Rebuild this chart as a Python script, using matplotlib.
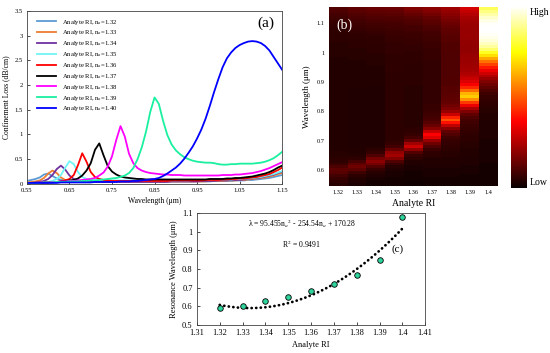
import numpy as np
import matplotlib
matplotlib.use('Agg')
import matplotlib.pyplot as plt
from matplotlib.colors import PowerNorm

plt.rcParams['font.family'] = ['Liberation Serif', 'DejaVu Serif']
plt.rcParams['mathtext.fontset'] = 'stix'

# wavelength grid of panel (a) / (b), um
WAVELENGTH = np.round(np.arange(0.55, 1.1501, 0.01), 2)

RI = [1.32, 1.33, 1.34, 1.35, 1.36, 1.37, 1.38, 1.39, 1.40]
RI_LABELS = ['1.32', '1.33', '1.34', '1.35', '1.36', '1.37', '1.38', '1.39', '1.4']
LINE_COLORS = ['#5b9bd5', '#ed7d31', '#7030a0', '#6ff5f5', '#ff0000',
               '#000000', '#ff00ff', '#19f0a0', '#0000ff']

# confinement loss (dB/cm), one list per analyte RI
LOSS_132 = [0.06, 0.08, 0.10, 0.13, 0.19, 0.21, 0.16, 0.11, 0.08, 0.07,
            0.06, 0.06, 0.05, 0.05, 0.05, 0.05, 0.05, 0.05, 0.05, 0.05,
            0.05, 0.05, 0.05, 0.05, 0.05, 0.05, 0.05, 0.05, 0.05, 0.05,
            0.05, 0.05, 0.05, 0.05, 0.05, 0.05, 0.05, 0.05, 0.05, 0.05,
            0.05, 0.05, 0.05, 0.05, 0.06, 0.06, 0.06, 0.06, 0.06, 0.07,
            0.07, 0.07, 0.08, 0.08, 0.09, 0.10, 0.11, 0.12, 0.14, 0.16, 0.18]
LOSS_133 = [0.03, 0.04, 0.05, 0.07, 0.12, 0.21, 0.27, 0.22, 0.13, 0.08,
            0.06, 0.05, 0.05, 0.04, 0.04, 0.04, 0.04, 0.04, 0.04, 0.04,
            0.04, 0.04, 0.04, 0.04, 0.04, 0.04, 0.04, 0.04, 0.04, 0.04,
            0.04, 0.04, 0.04, 0.05, 0.05, 0.05, 0.05, 0.05, 0.05, 0.05,
            0.05, 0.05, 0.05, 0.06, 0.06, 0.06, 0.06, 0.07, 0.07, 0.07,
            0.08, 0.08, 0.09, 0.10, 0.11, 0.12, 0.13, 0.15, 0.17, 0.20, 0.22]
LOSS_134 = [0.02, 0.02, 0.03, 0.04, 0.06, 0.10, 0.18, 0.30, 0.37, 0.29,
            0.17, 0.10, 0.07, 0.05, 0.04, 0.04, 0.04, 0.04, 0.04, 0.04,
            0.04, 0.04, 0.04, 0.04, 0.04, 0.04, 0.04, 0.04, 0.04, 0.04,
            0.04, 0.04, 0.04, 0.04, 0.05, 0.05, 0.05, 0.05, 0.05, 0.05,
            0.05, 0.06, 0.06, 0.06, 0.06, 0.07, 0.07, 0.07, 0.08, 0.08,
            0.08, 0.09, 0.10, 0.11, 0.12, 0.13, 0.15, 0.17, 0.19, 0.22, 0.25]
LOSS_135 = [0.02, 0.02, 0.02, 0.03, 0.03, 0.04, 0.06, 0.10, 0.18, 0.33,
            0.46, 0.40, 0.24, 0.14, 0.10, 0.08, 0.07, 0.07, 0.07, 0.07,
            0.07, 0.07, 0.07, 0.07, 0.07, 0.07, 0.07, 0.07, 0.07, 0.07,
            0.07, 0.07, 0.07, 0.07, 0.07, 0.07, 0.07, 0.07, 0.07, 0.08,
            0.08, 0.08, 0.08, 0.08, 0.08, 0.09, 0.09, 0.09, 0.09, 0.10,
            0.10, 0.11, 0.11, 0.12, 0.13, 0.14, 0.16, 0.18, 0.20, 0.23, 0.26]
LOSS_136 = [0.01, 0.01, 0.02, 0.02, 0.02, 0.03, 0.03, 0.04, 0.05, 0.07,
            0.10, 0.18, 0.38, 0.62, 0.45, 0.24, 0.14, 0.10, 0.08, 0.07,
            0.06, 0.06, 0.06, 0.06, 0.06, 0.06, 0.06, 0.06, 0.06, 0.06,
            0.06, 0.06, 0.06, 0.06, 0.07, 0.07, 0.07, 0.07, 0.07, 0.07,
            0.07, 0.07, 0.08, 0.08, 0.08, 0.08, 0.09, 0.09, 0.10, 0.10,
            0.11, 0.11, 0.12, 0.13, 0.14, 0.16, 0.18, 0.20, 0.24, 0.28, 0.33]
LOSS_137 = [0.02, 0.02, 0.02, 0.03, 0.03, 0.03, 0.04, 0.04, 0.05, 0.05,
            0.07, 0.08, 0.11, 0.17, 0.27, 0.42, 0.69, 0.82, 0.58, 0.36,
            0.25, 0.19, 0.15, 0.13, 0.12, 0.11, 0.10, 0.10, 0.09, 0.09,
            0.09, 0.09, 0.09, 0.09, 0.09, 0.09, 0.09, 0.09, 0.09, 0.09,
            0.09, 0.09, 0.09, 0.10, 0.10, 0.10, 0.10, 0.11, 0.11, 0.12,
            0.12, 0.13, 0.14, 0.15, 0.17, 0.19, 0.21, 0.24, 0.28, 0.33, 0.37]
LOSS_138 = [0.02, 0.02, 0.02, 0.03, 0.03, 0.03, 0.04, 0.04, 0.05, 0.05,
            0.06, 0.06, 0.07, 0.08, 0.09, 0.10, 0.12, 0.17, 0.23, 0.35,
            0.56, 0.89, 1.17, 0.96, 0.61, 0.42, 0.32, 0.27, 0.24, 0.22,
            0.21, 0.20, 0.19, 0.19, 0.18, 0.18, 0.18, 0.17, 0.17, 0.17,
            0.17, 0.17, 0.17, 0.17, 0.17, 0.17, 0.18, 0.18, 0.18, 0.19,
            0.19, 0.20, 0.21, 0.22, 0.24, 0.26, 0.29, 0.32, 0.36, 0.40, 0.44]
LOSS_139 = [0.02, 0.02, 0.02, 0.02, 0.03, 0.03, 0.03, 0.04, 0.04, 0.04,
            0.05, 0.05, 0.05, 0.06, 0.06, 0.07, 0.07, 0.08, 0.09, 0.10,
            0.11, 0.12, 0.14, 0.17, 0.22, 0.32, 0.50, 0.74, 1.06, 1.46,
            1.75, 1.62, 1.28, 0.99, 0.80, 0.68, 0.60, 0.54, 0.50, 0.47,
            0.45, 0.44, 0.43, 0.43, 0.42, 0.40, 0.39, 0.39, 0.40, 0.40,
            0.41, 0.41, 0.41, 0.41, 0.42, 0.43, 0.45, 0.48, 0.52, 0.58, 0.65]
LOSS_140 = [0.02, 0.02, 0.02, 0.02, 0.02, 0.02, 0.02, 0.02, 0.03, 0.03,
            0.03, 0.03, 0.03, 0.03, 0.03, 0.03, 0.04, 0.04, 0.04, 0.04,
            0.04, 0.04, 0.05, 0.05, 0.05, 0.06, 0.06, 0.07, 0.08, 0.09,
            0.10, 0.12, 0.16, 0.21, 0.27, 0.33, 0.41, 0.51, 0.63, 0.76,
            0.92, 1.10, 1.32, 1.58, 1.86, 2.12, 2.36, 2.54, 2.66, 2.75,
            2.81, 2.85, 2.88, 2.89, 2.88, 2.85, 2.79, 2.70, 2.57, 2.44, 2.31]

# panel (c): resonance wavelength vs analyte RI
RES_WAVELENGTH = [0.59, 0.60, 0.63, 0.65, 0.68, 0.72, 0.77, 0.85, 1.08]
FIT_COEF = [95.455, -254.54, 170.28]

losses = [LOSS_132, LOSS_133, LOSS_134, LOSS_135, LOSS_136,
          LOSS_137, LOSS_138, LOSS_139, LOSS_140]

fig = plt.figure(figsize=(5.5, 3.53), dpi=100)

# ---- (a) confinement loss spectra
ax_a = fig.add_axes([0.049, 0.479, 0.464, 0.490])
for n, loss, c in zip(RI, losses, LINE_COLORS):
    ax_a.plot(WAVELENGTH, loss, color=c, lw=1.3,
              label=r'Analyte RI, n$_a$=%.2f' % n)
ax_a.set_xlim(0.55, 1.15)
ax_a.set_ylim(0, 3.5)
ax_a.set_xticks([0.55, 0.65, 0.75, 0.85, 0.95, 1.05, 1.15])
ax_a.set_xticklabels(['0.55', '0.65', '0.75', '0.85', '0.95', '1.05', '1.15'])
ax_a.set_yticks([0, 0.5, 1, 1.5, 2, 2.5, 3, 3.5])
ax_a.set_yticklabels(['0', '0.5', '1', '1.5', '2', '2.5', '3', '3.5'])
ax_a.tick_params(labelsize=4.8, direction='in', length=2, width=0.5, pad=3)
ax_a.set_xlabel('Wavelength (μm)', fontsize=5.5, labelpad=3)
ax_a.set_ylabel('Confinement Loss (dB/cm)', fontsize=5.5, labelpad=3)
for s in ax_a.spines.values():
    s.set_linewidth(0.6)
    s.set_color('#444444')
ax_a.legend(loc='upper left', fontsize=4.8, frameon=False, handlelength=2.8,
            handletextpad=0.9, labelspacing=0.28, borderaxespad=0.2,
            bbox_to_anchor=(0.025, 0.985))
ax_a.text(0.935, 0.93, '(a)', transform=ax_a.transAxes, fontsize=11,
          ha='center', va='center')

# ---- (b) heat map
ax_b = fig.add_axes([0.598, 0.473, 0.307, 0.507])
Z = np.array(losses).T
x_edges = np.append(np.array(RI) - 0.005, RI[-1] + 0.005)
y_edges = np.append(WAVELENGTH - 0.005, WAVELENGTH[-1] + 0.005)
ax_b.pcolormesh(x_edges, y_edges, Z, cmap='hot',
                norm=PowerNorm(gamma=0.8, vmin=0, vmax=Z.max()),
                shading='flat')
ax_b.set_xlim(x_edges[0], x_edges[-1])
ax_b.set_ylim(0.545, 1.155)
ax_b.set_xticks(RI)
ax_b.set_xticklabels(RI_LABELS)
ax_b.set_yticks([0.6, 0.7, 0.8, 0.9, 1.0, 1.1])
ax_b.set_yticklabels(['0.6', '0.7', '0.8', '0.9', '1', '1.1'])
ax_b.tick_params(labelsize=4.5, length=0, pad=3)
for s in ax_b.spines.values():
    s.set_visible(False)
ax_b.set_xlabel('Analyte RI', fontsize=7, labelpad=3)
ax_b.set_ylabel('Wavelength (μm)', fontsize=6.5, labelpad=4)
ax_b.text(0.09, 0.9, '(b)', transform=ax_b.transAxes, fontsize=10,
          color='white', ha='center', va='center')

# colorbar
ax_cb = fig.add_axes([0.929, 0.467, 0.029, 0.513])
grad = np.linspace(0, 1, 256).reshape(-1, 1)
ax_cb.imshow(grad, cmap='hot', aspect='auto', origin='lower')
ax_cb.set_axis_off()
ax_cb.text(1.15, 0.97, 'High', transform=ax_cb.transAxes, fontsize=7,
           ha='left', va='center')
ax_cb.text(1.15, 0.03, 'Low', transform=ax_cb.transAxes, fontsize=7,
           ha='left', va='center')

# ---- (c) resonance wavelength
ax_c = fig.add_axes([0.358, 0.079, 0.415, 0.318])
n_fit = np.linspace(1.32, 1.40, 80)
fit = np.polyval(FIT_COEF, n_fit)
ax_c.plot(n_fit, fit, color='black', lw=2.0, ls=(0, (0.05, 1.6)),
          dash_capstyle='round')
ax_c.scatter(RI, RES_WAVELENGTH, s=16, color='#2fd49c', edgecolor='black',
             linewidth=0.6, zorder=3)
ax_c.set_xlim(1.31, 1.41)
ax_c.set_ylim(0.5, 1.1)
ax_c.set_xticks(np.round(np.arange(1.31, 1.4101, 0.01), 2))
ax_c.set_xticklabels(['1.31', '1.32', '1.33', '1.34', '1.35', '1.36', '1.37',
                      '1.38', '1.39', '1.4', '1.41'])
ax_c.set_yticks([0.5, 0.6, 0.7, 0.8, 0.9, 1.0, 1.1])
ax_c.set_yticklabels(['0.5', '0.6', '0.7', '0.8', '0.9', '1', '1.1'])
ax_c.tick_params(labelsize=6, direction='in', length=2, width=0.5, pad=3)
ax_c.set_xlabel('Analyte RI', fontsize=6, labelpad=3)
ax_c.set_ylabel('Resonance Wavelength (μm)', fontsize=6, labelpad=3)
for s in ax_c.spines.values():
    s.set_linewidth(0.6)
    s.set_color('#444444')
ax_c.text(0.46, 0.9, r'λ = 95.455n$_a$$^2$ - 254.54n$_a$ + 170.28',
          transform=ax_c.transAxes, fontsize=5.5, ha='center', va='center')
ax_c.text(0.46, 0.72, r'R$^2$ = 0.9491', transform=ax_c.transAxes,
          fontsize=5.5, ha='center', va='center')
ax_c.text(0.88, 0.68, '(c)', transform=ax_c.transAxes, fontsize=8,
          ha='center', va='center')

fig.savefig('out.png', dpi=100)
